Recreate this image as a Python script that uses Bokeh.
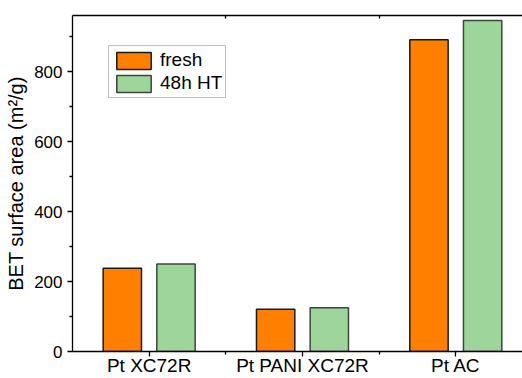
from bokeh.plotting import figure
from bokeh.models import (ColumnDataSource, FixedTicker, LinearAxis, Range1d,
                          Legend, LegendItem)
from bokeh.embed import file_html
from bokeh.resources import INLINE

# BET surface area per catalyst, fresh vs. after 48 h heat treatment
catalysts = ["Pt XC72R", "Pt PANI XC72R", "Pt AC"]
fresh = [238, 121, 891]
ht_48h = [250, 125, 946]
series_names = ["fresh", "48h HT"]

y_ticks = [0, 200, 400, 600, 800]
y_minor = [100, 300, 500, 700, 900]

pos = [1, 2, 3]
bar_w = 0.25
shift = 0.175

src_fresh = ColumnDataSource(dict(x=[p - shift for p in pos], top=fresh))
src_ht = ColumnDataSource(dict(x=[p + shift for p in pos], top=ht_48h))

p = figure(width=522, height=378, output_backend="svg", toolbar_location=None,
           x_range=Range1d(0.5, 3.435), y_range=Range1d(0, 960),
           min_border_left=72, min_border_right=0, min_border_top=15,
           min_border_bottom=27, x_axis_type=None, y_axis_type=None)
p.outline_line_color = None
p.grid.visible = False
p.background_fill_color = "white"
p.border_fill_color = "white"

FONT = "Liberation Sans"

r1 = p.vbar(x="x", top="top", width=bar_w, source=src_fresh,
            fill_color="#FF8000", line_color="#1a1a1a", line_width=1.5)
r2 = p.vbar(x="x", top="top", width=bar_w, source=src_ht,
            fill_color="#9DD59B", line_color="#3c463c", line_width=1.5)

# bottom category axis
xa = LinearAxis(ticker=FixedTicker(ticks=pos, minor_ticks=[1.5, 2.5]))
xa.major_label_overrides = {p_: c for p_, c in zip(pos, catalysts)}
xa.major_label_text_font = FONT
xa.major_label_text_font_size = "19px"
xa.major_label_text_color = "black"
xa.major_label_standoff = -2
xa.major_tick_out = 5
xa.major_tick_in = 0
xa.minor_tick_out = 3
xa.minor_tick_in = 0
xa.axis_line_color = "black"
xa.axis_line_width = 1.3
xa.major_tick_line_width = 1.3
xa.minor_tick_line_width = 1.3
p.add_layout(xa, "below")

# top frame line with inward boundary ticks
ta = LinearAxis(ticker=FixedTicker(ticks=[], minor_ticks=[1.5, 2.5]))
ta.major_label_standoff = 0
ta.major_tick_out = 0
ta.major_tick_in = 0
ta.minor_tick_in = 3
ta.minor_tick_out = 0
ta.axis_line_color = "black"
ta.axis_line_width = 1.3
ta.minor_tick_line_width = 1.3
p.add_layout(ta, "above")

# left value axis
ya = LinearAxis(ticker=FixedTicker(ticks=y_ticks, minor_ticks=y_minor))
ya.axis_label = "BET surface area (m\u00b2/g)"
ya.axis_label_text_font = FONT
ya.axis_label_text_font_style = "normal"
ya.axis_label_text_font_size = "20px"
ya.axis_label_text_color = "black"
ya.axis_label_standoff = 4
ya.major_label_text_font = FONT
ya.major_label_text_font_size = "17px"
ya.major_label_text_color = "black"
ya.major_label_standoff = 5
ya.major_tick_out = 5
ya.major_tick_in = 0
ya.minor_tick_out = 3
ya.minor_tick_in = 0
ya.axis_line_color = "black"
ya.axis_line_width = 1.3
ya.major_tick_line_width = 1.3
ya.minor_tick_line_width = 1.3
p.add_layout(ya, "left")

legend = Legend(items=[LegendItem(label=series_names[0], renderers=[r1]),
                       LegendItem(label=series_names[1], renderers=[r2])],
                location=(36, 253))
legend.label_text_font = FONT
legend.label_text_font_size = "19px"
legend.label_text_color = "black"
legend.label_height = 21
legend.glyph_width = 43
legend.glyph_height = 21
legend.label_standoff = 5
legend.padding = 3
legend.spacing = 1
legend.margin = 0
legend.border_line_color = "#808080"
legend.border_line_width = 1.2
legend.background_fill_alpha = 1
p.add_layout(legend, "center")

open("out.html", "w").write(file_html(p, INLINE))
